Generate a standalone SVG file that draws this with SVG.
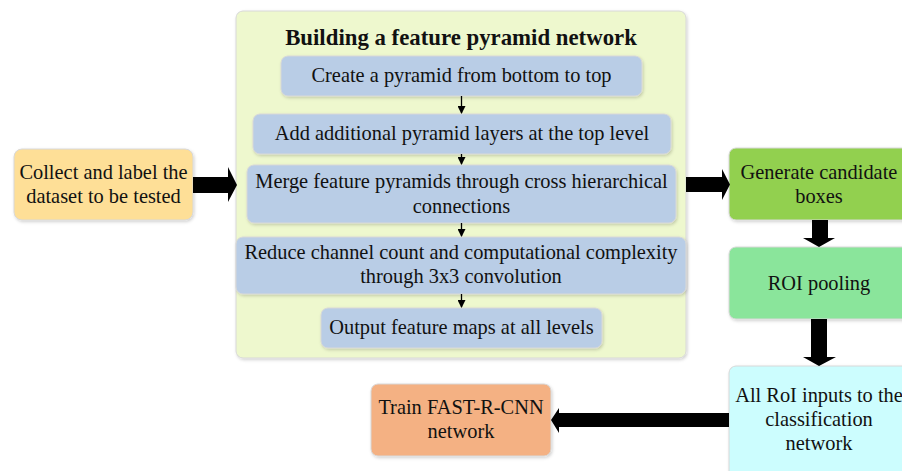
<svg xmlns="http://www.w3.org/2000/svg" width="902" height="471" viewBox="0 0 902 471">
<defs>
<style>
text{font-family:"Liberation Serif","Times New Roman",serif;font-size:20.4px;fill:#111;text-anchor:middle}
.t{font-weight:bold;font-size:22.8px}
.box{stroke:#d8d8d8;stroke-width:1}
.thin{stroke:#000;stroke-width:1.3;fill:none}
.fat{fill:#000}
</style>
<filter id="sh" x="-10%" y="-10%" width="130%" height="130%">
<feDropShadow dx="1" dy="1.5" stdDeviation="1.5" flood-color="#000" flood-opacity="0.18"/>
</filter>
<marker id="ah" markerWidth="8" markerHeight="8" refX="7" refY="4" orient="auto" markerUnits="userSpaceOnUse">
<path d="M0,0 L8,4 L0,8 z" fill="#000"/>
</marker>
</defs>
<rect width="902" height="471" fill="#fff"/>

<g id="collect">
<rect class="box" x="14" y="149" width="179" height="71" rx="8" fill="#FEDF97" filter="url(#sh)"/>
<text x="103.5" y="179">Collect and label the</text>
<text x="103.5" y="203">dataset to be tested</text>
</g>

<g id="fpn">
<rect class="box" x="236" y="11" width="450" height="347" rx="7" fill="#EEF8CE" filter="url(#sh)"/>
<text class="t" x="461" y="45">Building a feature pyramid network</text>
</g>

<g id="create">
<rect class="box" x="281" y="56" width="361" height="40" rx="7" fill="#B9CDE6" filter="url(#sh)"/>
<text x="461.5" y="82">Create a pyramid from bottom to top</text>
</g>

<g id="add">
<rect class="box" x="253" y="114" width="418" height="40" rx="7" fill="#B9CDE6" filter="url(#sh)"/>
<text x="462" y="140">Add additional pyramid layers at the top level</text>
</g>

<g id="merge">
<rect class="box" x="247" y="165" width="429" height="58" rx="7" fill="#B9CDE6" filter="url(#sh)"/>
<text x="461.5" y="188">Merge feature pyramids through cross hierarchical</text>
<text x="461.5" y="213">connections</text>
</g>

<g id="reduce">
<rect class="box" x="236" y="237" width="450" height="57" rx="7" fill="#B9CDE6" filter="url(#sh)"/>
<text x="461" y="259">Reduce channel count and computational complexity</text>
<text x="461" y="283">through 3x3 convolution</text>
</g>

<g id="output">
<rect class="box" x="321" y="308" width="281" height="40" rx="7" fill="#B9CDE6" filter="url(#sh)"/>
<text x="461.5" y="334">Output feature maps at all levels</text>
</g>

<g id="generate">
<rect class="box" x="729" y="148" width="182" height="72" rx="7" fill="#92D050" filter="url(#sh)"/>
<text x="819" y="179">Generate candidate</text>
<text x="819" y="203">boxes</text>
</g>

<g id="roi">
<rect class="box" x="729" y="247" width="182" height="72" rx="7" fill="#8AE59B" filter="url(#sh)"/>
<text x="819" y="290">ROI pooling</text>
</g>

<g id="allroi">
<rect class="box" x="729" y="366" width="182" height="112" rx="7" fill="#CCFDFE" filter="url(#sh)"/>
<text x="819" y="402">All RoI inputs to the</text>
<text x="819" y="426">classification</text>
<text x="819" y="450">network</text>
</g>

<g id="train">
<rect class="box" x="371" y="384" width="180" height="72" rx="7" fill="#F4B183" filter="url(#sh)"/>
<text x="461" y="414">Train FAST-R-CNN</text>
<text x="461" y="438">network</text>
</g>

<g id="connectors">
<path class="fat" d="M193,177 L228,177 L228,167 L237,185 L228,202 L228,193 L193,193 z"/>
<path class="fat" d="M686,177 L722,177 L722,169 L730,184.5 L722,200 L722,192 L686,192 z"/>
<path class="fat" d="M812,220 L828,220 L828,238 L835,238 L819,247 L803,238 L812,238 z"/>
<path class="fat" d="M811,319 L827,319 L827,357 L836,357 L819,366 L803,357 L811,357 z"/>
<path class="fat" d="M729,413 L559,413 L559,408 L551,420 L559,433 L559,427 L729,427 z"/>
<line class="thin" x1="461.5" y1="96" x2="461.5" y2="113" marker-end="url(#ah)"/>
<line class="thin" x1="461.5" y1="154" x2="461.5" y2="164" marker-end="url(#ah)"/>
<line class="thin" x1="461.5" y1="223" x2="461.5" y2="236" marker-end="url(#ah)"/>
<line class="thin" x1="461.5" y1="294" x2="461.5" y2="307" marker-end="url(#ah)"/>
</g>
</svg>
